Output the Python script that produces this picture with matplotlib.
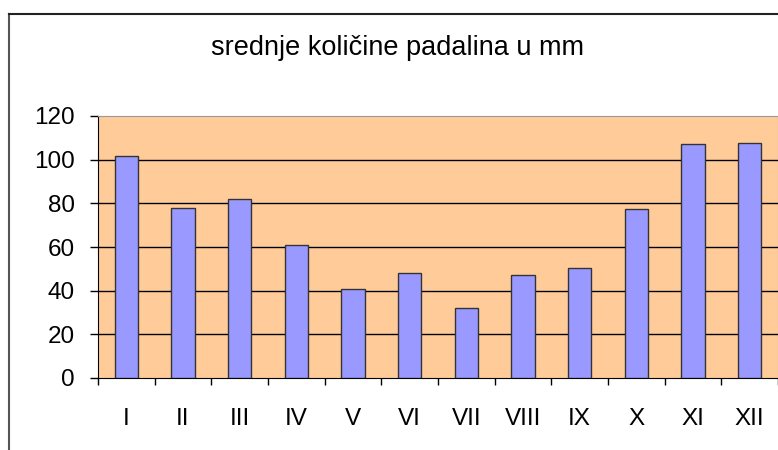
import matplotlib.pyplot as plt
from matplotlib.lines import Line2D
import numpy as np

# mean precipitation per month (mm)
months = ['I', 'II', 'III', 'IV', 'V', 'VI', 'VII', 'VIII', 'IX', 'X', 'XI', 'XII']
rain = [101.5, 77.8, 82.1, 61.1, 40.8, 48.3, 32.1, 47.2, 50.3, 77.4, 107.3, 107.8]
y_ticks = [0, 20, 40, 60, 80, 100, 120]

plt.rcParams['font.family'] = ['Liberation Sans', 'DejaVu Sans']

fig = plt.figure(figsize=(7.78, 4.5), dpi=100)
ax = fig.add_axes([98 / 778, 1 - 378 / 450, 680 / 778, 262 / 450])

x = np.arange(len(months))
ax.set_facecolor('#FFCC99')
ax.bar(x, rain, width=0.41, color='#9999FF', edgecolor='#333333', linewidth=1.0, zorder=3)

ax.set_xlim(-0.5, len(months) - 0.5)
ax.set_ylim(0, 120)

# gridlines
for v in y_ticks[1:-1]:
    ax.axhline(v, color='black', linewidth=1.0, zorder=1)

# y axis
ax.set_yticks(y_ticks)
ax.set_yticklabels([str(v) for v in y_ticks])
ax.tick_params(axis='y', direction='out', length=5.8, width=1, pad=10.8, labelsize=17.5)

# x axis: ticks between categories, labels at centres
ax.set_xticks(np.arange(-0.5, len(months), 1.0))
ax.set_xticklabels([])
ax.set_xticks(x, minor=True)
ax.set_xticklabels(months, minor=True)
ax.tick_params(axis='x', which='major', direction='out', length=5, width=1)
ax.tick_params(axis='x', which='minor', length=0, pad=21.5, labelsize=17.5)

ax.spines['left'].set_color('black')
ax.spines['bottom'].set_color('black')
ax.spines['top'].set_color('#999999')
ax.spines['right'].set_color('#999999')

fig.text(398 / 778, 1 - 55 / 450, 'srednje količine padalina u mm',
         ha='center', va='baseline', fontsize=19.5)

# outer chart frame (partly outside the picture)
fig.add_artist(Line2D([9 / 778, 9 / 778], [0, 1 - 14 / 450], color='#555555', linewidth=1.5))
fig.add_artist(Line2D([9 / 778, 1], [1 - 14 / 450, 1 - 14 / 450], color='#222222', linewidth=1.5))

fig.savefig('out.png', dpi=100)
